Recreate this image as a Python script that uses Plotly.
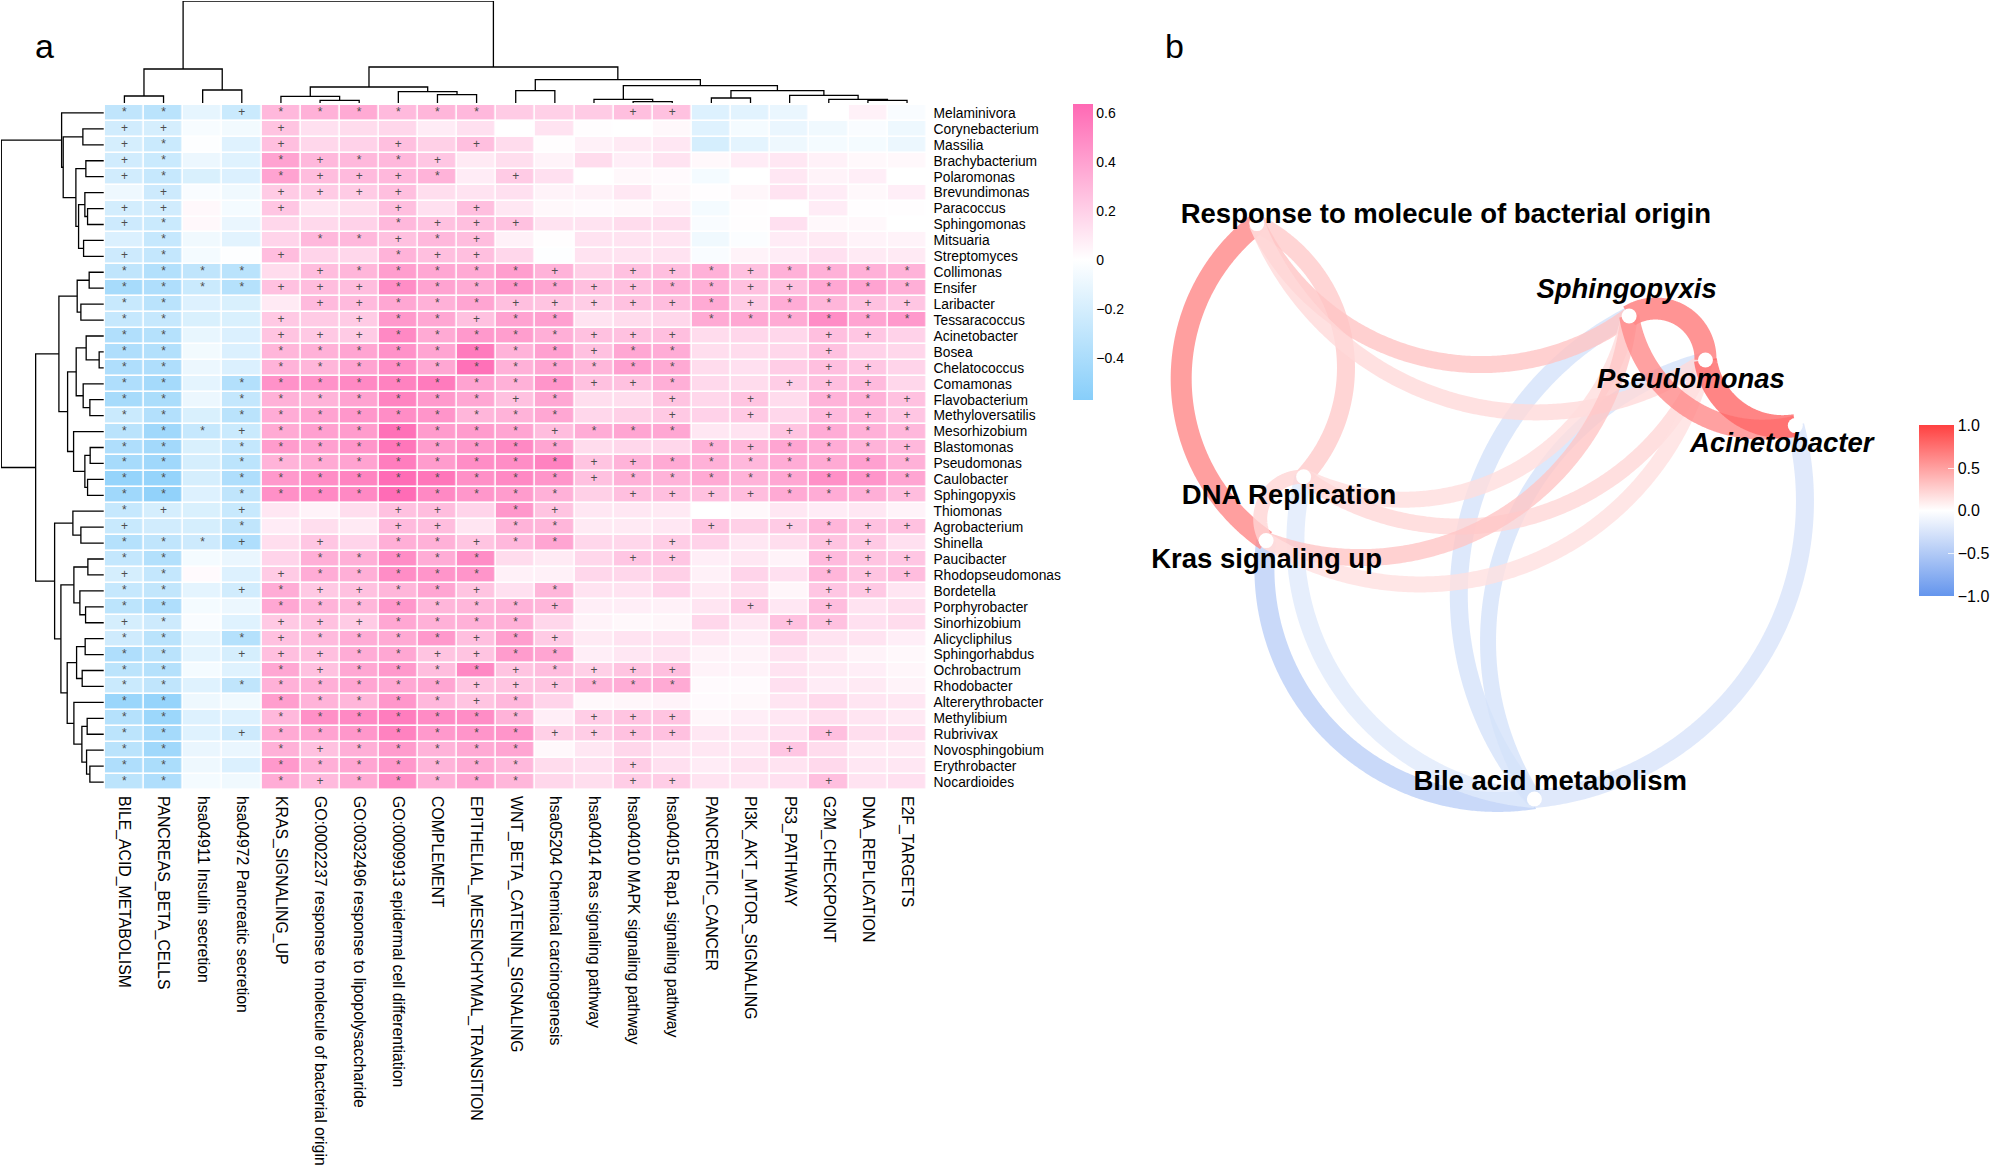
import numpy as np
import plotly.graph_objects as go

W, H = 1996, 1166
FONT = "Liberation Sans"

columns = ["BILE_ACID_METABOLISM", "PANCREAS_BETA_CELLS", "hsa04911 Insulin secretion", "hsa04972 Pancreatic secretion",
           "KRAS_SIGNALING_UP", "GO:0002237 response to molecule of bacterial origin", "GO:0032496 response to lipopolysaccharide",
           "GO:0009913 epidermal cell differentiation", "COMPLEMENT", "EPITHELIAL_MESENCHYMAL_TRANSITION", "WNT_BETA_CATENIN_SIGNALING",
           "hsa05204 Chemical carcinogenesis", "hsa04014 Ras signaling pathway", "hsa04010 MAPK signaling pathway",
           "hsa04015 Rap1 signaling pathway", "PANCREATIC_CANCER", "PI3K_AKT_MTOR_SIGNALING", "P53_PATHWAY", "G2M_CHECKPOINT",
           "DNA_REPLICATION", "E2F_TARGETS"]
genera = ["Melaminivora", "Corynebacterium", "Massilia", "Brachybacterium", "Polaromonas", "Brevundimonas", "Paracoccus",
          "Sphingomonas", "Mitsuaria", "Streptomyces", "Collimonas", "Ensifer", "Laribacter", "Tessaracoccus", "Acinetobacter",
          "Bosea", "Chelatococcus", "Comamonas", "Flavobacterium", "Methyloversatilis", "Mesorhizobium", "Blastomonas",
          "Pseudomonas", "Caulobacter", "Sphingopyxis", "Thiomonas", "Agrobacterium", "Shinella", "Paucibacter",
          "Rhodopseudomonas", "Bordetella", "Porphyrobacter", "Sinorhizobium", "Alicycliphilus", "Sphingorhabdus", "Ochrobactrum",
          "Rhodobacter", "Altererythrobacter", "Methylibium", "Rubrivivax", "Novosphingobium", "Erythrobacter", "Nocardioides"]

values = [
 [-.30,-.33,-.12,-.25,.30,.33,.36,.29,.31,.30,.22,.20,.22,.27,.26,-.16,-.14,-.10,.00,.06,-.03],
 [-.22,-.20,-.04,-.06,.25,.13,.15,.17,.08,.13,.00,.12,.01,.00,.03,-.15,-.05,-.10,-.07,-.03,-.08],
 [-.20,-.25,-.01,-.15,.27,.17,.19,.27,.20,.27,.15,.01,.06,.09,.10,-.20,-.13,-.08,-.05,-.05,-.09],
 [-.22,-.25,-.09,-.15,.39,.30,.30,.30,.24,.09,.14,.05,.15,.07,.12,.03,.08,.10,.06,.03,.03],
 [-.22,-.27,-.18,-.17,.39,.28,.29,.30,.32,.08,.22,.13,.00,.03,.02,-.05,.00,.10,.05,.07,.00],
 [-.08,-.24,-.03,-.07,.22,.22,.22,.27,.14,.12,.13,.05,.06,.10,.03,.01,.04,.12,.08,.03,.07],
 [-.21,-.22,.03,-.05,.24,.11,.14,.27,.13,.27,.10,.03,.02,.03,.06,-.05,.01,.00,.08,.01,.01],
 [-.24,-.25,.03,-.10,.17,.16,.19,.30,.26,.27,.26,.12,.12,.15,.14,-.03,.01,.13,.03,.03,.00],
 [-.17,-.27,-.07,-.14,.18,.30,.30,.26,.30,.28,.06,.01,.12,.12,.11,-.07,-.02,.08,.09,.05,.05],
 [-.24,-.28,-.05,-.01,.28,.18,.17,.32,.27,.27,.17,-.01,.12,.12,.12,-.03,.05,.08,.13,.09,.09],
 [-.30,-.36,-.30,-.33,.15,.28,.31,.41,.37,.36,.41,.32,.20,.26,.27,.33,.26,.33,.33,.33,.32],
 [-.42,-.38,-.25,-.35,.26,.28,.28,.48,.39,.36,.45,.38,.27,.27,.33,.34,.26,.27,.37,.39,.34],
 [-.26,-.33,-.16,-.18,.09,.29,.29,.37,.33,.38,.27,.25,.21,.26,.28,.36,.22,.35,.31,.26,.24],
 [-.27,-.27,-.18,-.18,.23,.22,.22,.43,.37,.26,.39,.40,.12,.15,.17,.36,.37,.36,.48,.39,.43],
 [-.37,-.35,-.11,-.17,.25,.23,.22,.50,.36,.43,.41,.34,.26,.26,.27,.15,.17,.17,.27,.24,.19],
 [-.38,-.36,-.06,-.17,.31,.33,.38,.46,.38,.56,.32,.40,.26,.37,.35,.14,.15,.17,.26,.19,.17],
 [-.38,-.38,-.09,-.17,.32,.31,.39,.48,.37,.60,.33,.38,.31,.40,.36,.15,.13,.21,.27,.24,.18],
 [-.38,-.43,-.13,-.36,.46,.46,.50,.53,.56,.39,.33,.45,.26,.26,.34,.16,.15,.21,.27,.29,.17],
 [-.42,-.40,-.09,-.28,.33,.32,.39,.52,.43,.37,.26,.37,.14,.14,.25,.17,.25,.15,.32,.33,.26],
 [-.25,-.36,-.18,-.33,.35,.39,.44,.48,.45,.31,.32,.37,.17,.20,.23,.19,.23,.17,.29,.30,.24],
 [-.33,-.45,-.27,-.25,.36,.40,.42,.60,.42,.42,.38,.28,.35,.38,.37,.10,.12,.25,.35,.33,.30],
 [-.38,-.44,-.18,-.28,.42,.40,.45,.58,.42,.44,.50,.38,.15,.17,.17,.33,.31,.38,.35,.32,.30],
 [-.42,-.45,-.20,-.32,.32,.36,.39,.55,.42,.48,.48,.53,.25,.32,.36,.33,.30,.35,.36,.40,.33],
 [-.50,-.50,-.20,-.38,.43,.48,.52,.62,.58,.47,.50,.45,.26,.33,.32,.36,.32,.37,.47,.45,.38],
 [-.45,-.52,-.16,-.30,.47,.50,.50,.62,.50,.44,.42,.33,.20,.27,.27,.26,.28,.36,.35,.34,.28],
 [-.27,-.20,-.18,-.26,.10,.05,.14,.26,.28,.18,.44,.25,.10,.10,.09,.00,.03,.10,.08,.10,.05],
 [-.26,-.22,-.20,-.30,.08,.14,.09,.29,.28,.11,.32,.31,.09,.09,.10,.25,.20,.22,.31,.26,.26],
 [-.35,-.30,-.24,-.38,.14,.24,.18,.34,.33,.25,.30,.38,.17,.17,.21,.19,.10,.14,.25,.23,.13],
 [-.28,-.36,-.05,-.10,.18,.34,.34,.48,.35,.48,.15,.09,.17,.24,.24,.07,.10,.05,.29,.25,.24],
 [-.20,-.28,.02,-.16,.22,.35,.34,.48,.45,.45,.06,.06,.17,.17,.20,.06,.18,.13,.31,.25,.28],
 [-.27,-.29,-.13,-.22,.35,.23,.26,.31,.38,.25,.13,.31,.12,.12,.18,.09,.14,.04,.24,.23,.11],
 [-.32,-.38,-.05,-.09,.37,.32,.31,.44,.31,.31,.33,.31,.07,.07,.06,.11,.23,.10,.28,.12,.14],
 [-.20,-.24,-.03,-.15,.23,.26,.22,.37,.33,.33,.33,.17,.05,.03,.04,.17,.10,.26,.26,.13,.15],
 [-.23,-.33,-.13,-.35,.26,.29,.35,.36,.43,.27,.41,.22,.09,.12,.12,.10,.07,.19,.12,.12,.07],
 [-.38,-.33,-.13,-.20,.27,.27,.35,.37,.25,.25,.42,.38,.07,.10,.12,.05,.05,.12,.09,.05,.03],
 [-.32,-.35,-.05,-.15,.37,.26,.37,.43,.28,.50,.25,.28,.20,.25,.27,.05,.05,.12,.09,.07,.04],
 [-.25,-.30,-.15,-.30,.33,.34,.38,.37,.38,.25,.25,.25,.32,.35,.36,.02,.02,.13,.08,.09,.05],
 [-.48,-.50,-.08,-.07,.41,.32,.31,.44,.30,.25,.30,.18,.03,.04,.05,.02,.03,.11,.16,.11,.10],
 [-.35,-.47,-.16,-.16,.30,.47,.50,.55,.49,.48,.32,.07,.21,.25,.25,.04,.07,.10,.14,.11,.09],
 [-.32,-.43,-.15,-.24,.36,.39,.44,.53,.43,.45,.45,.20,.21,.26,.26,.10,.10,.13,.27,.14,.14],
 [-.33,-.45,-.10,-.10,.33,.26,.34,.42,.32,.36,.38,.03,.10,.17,.12,.10,.10,.24,.15,.09,.09],
 [-.38,-.40,-.08,-.17,.43,.34,.38,.44,.32,.36,.30,.15,.13,.21,.13,.08,.12,.12,.16,.10,.10],
 [-.32,-.38,-.05,-.07,.35,.29,.36,.48,.33,.38,.31,.17,.14,.21,.21,.12,.11,.13,.27,.12,.13],
]

# '*' or '+' per cell; '.' means no mark
signif = [
 "**.+******...++......", "++..+................", "+*..+..+.+...........", "+*..*+**+............",
 "+*..*+++*.+..........", ".+..++++.............", "++..+..+.+...........", "+*.....*+++..........",
 ".*...**+*+...........", "+*..+..*++...........", "****.+*****+.++*+****", "****+++*****++**++***",
 "**...++***+++++*+**++", "**..+.+**+**...******", "**..+++*****+++...++.", "**..********+**...+..",
 "**..***********...++.", "**.*********++*..+++.", "**.*******+*..+.+.**+", "**.*********..+.+.+++",
 "***+*******+***..+***", "**.*********...*+***+", "**.*********++*******", "**.*********+********",
 "**.*********.++++***+", "*+.+...++.*+.........", "+..*...++.**...+.+*++", "***+.+.**+**..+...++.",
 "**...*****...++...+++", "+*..+*****........*++", "**.+*++**+.*......++.", "**..*******+....+.+..",
 "+*..+++****......++..", "**.*+****+*+.........", "**.+++**++**.........", "**..*+****+*+++......",
 "**.******+++***......", "**..*****+*..........", "**..*******.+++......", "**.+*******++++...+..",
 "**..*+*****......+...", "**..*******..+.......", "**..*+*****..++...+..",
]

# dendrogram trees: (height, child, child); leaves are column / row indices
column_tree = (102, (34, (7, 0, 1), (13, 2, 3)),
               (36, (16, (6.7, 4, (2.7, 5, 6)), (11.3, 7, (8.3, 8, 9))),
                (23.3, (12.3, 10, 11),
                 (17.3, (3.7, 12, (1.3, 13, 14)),
                  (12.3, (5, 15, 16), (7.7, 17, (3.7, 18, (2.7, 19, 20))))))))
row_tree = (102.7,
            (42.3, 0, (40.7, (21, 1, 2),
                       (28, (18, 3, 4), (25.3, (19, 5, (16.3, 6, 7)), (20.3, 8, 9))))),
            (68.3,
             (45, (26.7, (14.7, 10, 11), (23, 12, 13)),
              (36.3, (27.7, (17.7, 14, (4.7, 15, 16)), (20.7, 17, (14, 18, 19))),
               (30.3, 20, (19, (13.7, 21, 22), (16.3, 23, 24))))),
             (49.3, (31, 25, (23, 26, 27)),
              (43, (30, (16, 28, 29), (24, 30, (18.3, 31, 32))),
               (36.7, (27.3, (18.7, 33, 34), (21.7, 35, 36)),
                (30, 37, (22, (16.7, 38, 39), (17.3, 40, (14, 41, 42)))))))))

# panel b: network
node_names = ["Response to molecule of bacterial origin", "DNA Replication", "Kras signaling up", "Bile acid metabolism",
              "Sphingopyxis", "Pseudomonas", "Acinetobacter"]
node_x = [1258.7, 1305.6, 1268, 1536.7, 1631.6, 1708, 1798]
node_y = [223.6, 476.7, 540.6, 799, 316, 360, 425.6]
label_x = [1448, 1291, 1268.5, 1552.5, 1629, 1693.5, 1784.5]
label_y = [216, 497, 561, 783, 291, 381, 445]
label_italic = [False, False, False, False, True, True, True]
# edge: from, to, correlation, line width, a point the curve passes through
edge_from = ["Bile acid metabolism"] * 5 + ["Response to molecule of bacterial origin"] * 4 + ["DNA Replication"] * 3 + ["Kras signaling up"] * 2 + ["Sphingopyxis"] * 2 + ["Pseudomonas"]
edge_to = ["Kras signaling up", "DNA Replication", "Sphingopyxis", "Pseudomonas", "Acinetobacter",
           "Kras signaling up", "DNA Replication", "Sphingopyxis", "Pseudomonas",
           "Kras signaling up", "Sphingopyxis", "Pseudomonas",
           "Sphingopyxis", "Pseudomonas",
           "Pseudomonas", "Acinetobacter", "Acinetobacter"]
edge_corr = [-.44, -.20, -.27, -.27, -.25, .63, .27, .31, .20, .22, .18, .21, .30, .16, .70, .61, .80]
edge_width = [20, 18, 18, 16, 18, 21, 18, 17, 16, 14, 16, 16, 17, 16, 22, 20, 23]
edge_via_x = [1318, 1334, 1461, 1494, 1777.5, 1183, 1348, 1481.6, 1537.8, 1265, 1415, 1466, 1466, 1507, 1691, 1680.6, 1726.5]
edge_via_y = [715, 674, 595, 595, 632, 375, 367, 364.6, 412.4, 503.6, 499.5, 526.5, 537, 572, 321, 400, 400]

corr_ticks = [1.0, 0.5, 0.0, -0.5, -1.0]
heat_ticks = [0.6, 0.4, 0.2, 0.0, -0.2, -0.4]
zmin, zmax = -0.571, 0.634

# ---------- geometry (pixels) ----------
HX0, HX1, HY0, HY1 = 105, 928, 105, 790

def dom_x(a, b):
    return [a / W, b / W]

def dom_y(a, b):
    return [1 - b / H, 1 - a / H]

def walk(node, segs_a, segs_b):
    if not isinstance(node, tuple):
        return float(node), 0.0
    h, l, r = node
    pl, hl = walk(l, segs_a, segs_b)
    pr, hr = walk(r, segs_a, segs_b)
    segs_a += [pl, pl, pr, pr, None]
    segs_b += [hl, h, h, hr, None]
    return (pl + pr) / 2, h

fig = go.Figure()

white_at = -zmin / (zmax - zmin)
fig.add_trace(go.Heatmap(
    z=values, x=columns, y=genera, xgap=1.6, ygap=1.6, zmin=zmin, zmax=zmax,
    colorscale=[[0, "#87CEFA"], [white_at, "#FFFFFF"], [1, "#FF69B4"]],
    colorbar=dict(lenmode="pixels", len=296.4, thicknessmode="pixels", thickness=20, x=1075 / W, xanchor="left", xpad=0,
                  y=1 - 104.3 / H, yanchor="top", ypad=0, outlinewidth=0, tickmode="array", tickvals=heat_ticks,
                  ticktext=["0.6", "0.4", "0.2", "0", "\u22120.2", "\u22120.4"], ticks="", ticklabelposition="outside",
                  tickfont=dict(family=FONT, size=14, color="black")),
    hoverinfo="skip", xaxis="x", yaxis="y"))

for mark in "*+":
    xs, ys = [], []
    for g, s in zip(genera, signif):
        for c, m in zip(columns, s):
            if m == mark:
                xs.append(c)
                ys.append(g)
    fig.add_trace(go.Scatter(x=xs, y=ys, mode="text", text=[mark] * len(xs), textposition="middle center",
                             textfont=dict(family=FONT, size=12, color="#4D4D4D"), hoverinfo="skip", showlegend=False,
                             xaxis="x", yaxis="y"))

a, b = [], []
walk(column_tree, a, b)
fig.add_trace(go.Scatter(x=a, y=b, mode="lines", line=dict(color="black", width=1.3), showlegend=False, hoverinfo="skip",
                         xaxis="x2", yaxis="y2", connectgaps=False))
a, b = [], []
walk(row_tree, a, b)
fig.add_trace(go.Scatter(x=b, y=a, mode="lines", line=dict(color="black", width=1.3), showlegend=False, hoverinfo="skip",
                         xaxis="x3", yaxis="y3", connectgaps=False))

# network edges
def edge_rgba(c, alpha=0.8):
    end = (255, 64, 64) if c > 0 else (100, 149, 237)
    t = abs(c)
    rgb = [round(255 * (1 - t) + e * t) for e in end]
    return f"rgba({rgb[0]},{rgb[1]},{rgb[2]},{alpha})"

def arc(A, V, B, n=240):
    """Circular arc from A to B through V."""
    ax, ay, bx, by, cx, cy = A[0], A[1], V[0], V[1], B[0], B[1]
    d = 2 * (ax * (by - cy) + bx * (cy - ay) + cx * (ay - by))
    ux = ((ax**2 + ay**2) * (by - cy) + (bx**2 + by**2) * (cy - ay) + (cx**2 + cy**2) * (ay - by)) / d
    uy = ((ax**2 + ay**2) * (cx - bx) + (bx**2 + by**2) * (ax - cx) + (cx**2 + cy**2) * (bx - ax)) / d
    r = np.hypot(ax - ux, ay - uy)
    t0 = np.arctan2(ay - uy, ax - ux)
    tv = np.arctan2(by - uy, bx - ux)
    t1 = np.arctan2(cy - uy, cx - ux)
    dv = (tv - t0) % (2 * np.pi)
    d1 = (t1 - t0) % (2 * np.pi)
    sweep = d1 if dv < d1 else d1 - 2 * np.pi
    th = t0 + np.linspace(0, sweep, n)
    return ux + r * np.cos(th), uy + r * np.sin(th)

idx = {n: i for i, n in enumerate(node_names)}
for f, t_, c, w, vx, vy in zip(edge_from, edge_to, edge_corr, edge_width, edge_via_x, edge_via_y):
    A = (node_x[idx[f]], node_y[idx[f]])
    B = (node_x[idx[t_]], node_y[idx[t_]])
    px, py = arc(A, (vx, vy), B)
    fig.add_trace(go.Scatter(x=px, y=py, mode="lines", line=dict(color=edge_rgba(c), width=w, simplify=False),
                             showlegend=False, hoverinfo="skip", xaxis="x4", yaxis="y4"))

# correlation colour bar driven by the edge values
fig.add_trace(go.Scatter(
    x=edge_via_x, y=edge_via_y, mode="markers", showlegend=False, hoverinfo="skip", xaxis="x4", yaxis="y4",
    marker=dict(size=1, opacity=0, color=edge_corr, cmin=-1, cmax=1,
                colorscale=[[0, "#6495ED"], [0.5, "#FFFFFF"], [1, "#FF4040"]], showscale=True,
                colorbar=dict(lenmode="pixels", len=170.7, thicknessmode="pixels", thickness=34.7, x=1922 / W, xanchor="left", xpad=0,
                              y=1 - 425.3 / H, yanchor="top", ypad=0, outlinewidth=0, tickmode="array", tickvals=corr_ticks,
                              ticktext=["1.0", "0.5", "0.0", "\u22120.5", "\u22121.0"], ticks="inside", ticklen=6, tickwidth=1,
                              tickcolor="rgba(255,255,255,0.8)", tickfont=dict(family=FONT, size=16, color="black")))))

fig.add_trace(go.Scatter(x=node_x, y=node_y, mode="markers", marker=dict(color="white", size=15), showlegend=False,
                         hoverinfo="skip", xaxis="x4", yaxis="y4"))
for italic in (False, True):
    sel = [i for i, v in enumerate(label_italic) if v == italic]
    fig.add_trace(go.Scatter(x=[label_x[i] for i in sel], y=[label_y[i] for i in sel], text=[node_names[i] for i in sel],
                             mode="text", textposition="middle center",
                             textfont=dict(family=FONT, size=27.5, color="black", weight="bold", style="italic" if italic else "normal"),
                             showlegend=False, hoverinfo="skip", xaxis="x4", yaxis="y4"))

off = dict(visible=False, fixedrange=True)
fig.update_layout(
    width=W, height=H, margin=dict(l=0, r=0, t=0, b=0), paper_bgcolor="white", plot_bgcolor="rgba(0,0,0,0)",
    showlegend=False, font=dict(family=FONT, color="black"),
    xaxis=dict(domain=dom_x(HX0, HX1), range=[-0.5, 20.5], side="bottom", tickangle=90, ticks="", showgrid=False, zeroline=False, showline=False,
               tickfont=dict(family=FONT, size=15.8, color="black"), automargin=False, categoryorder="array",
               categoryarray=columns, ticklabelstandoff=5, tickmode="array", tickvals=columns, ticktext=columns),
    yaxis=dict(domain=dom_y(HY0, HY1), range=[42.5, -0.5], side="right", anchor="x", ticks="", showgrid=False, zeroline=False,
               showline=False, tickfont=dict(family=FONT, size=13.8, color="black"), automargin=False,
               categoryorder="array", categoryarray=genera, ticklabelstandoff=6, tickmode="array", tickvals=genera, ticktext=genera),
    xaxis2=dict(domain=dom_x(HX0, HX1), range=[-0.5, 20.5], anchor="y2", **off),
    yaxis2=dict(domain=dom_y(1, 103), range=[0, 102], anchor="x2", **off),
    xaxis3=dict(domain=dom_x(1, 104), range=[103, 0], anchor="y3", **off),
    yaxis3=dict(domain=dom_y(HY0, HY1), range=[42.5, -0.5], anchor="x3", **off),
    xaxis4=dict(domain=[0, 1], range=[0, W], anchor="y4", **off),
    yaxis4=dict(domain=[0, 1], range=[H, 0], anchor="x4", **off),
    annotations=[
        dict(text="a", xref="paper", yref="paper", x=44.5 / W, y=1 - 46 / H, showarrow=False, xanchor="center", yanchor="middle",
             font=dict(family=FONT, size=34, color="black")),
        dict(text="b", xref="paper", yref="paper", x=1176 / W, y=1 - 46 / H, showarrow=False, xanchor="center", yanchor="middle",
             font=dict(family=FONT, size=34, color="black")),
    ],
)

fig.write_html("out.html", config={"displayModeBar": False}, post_script="document.body.style.margin='0';")
